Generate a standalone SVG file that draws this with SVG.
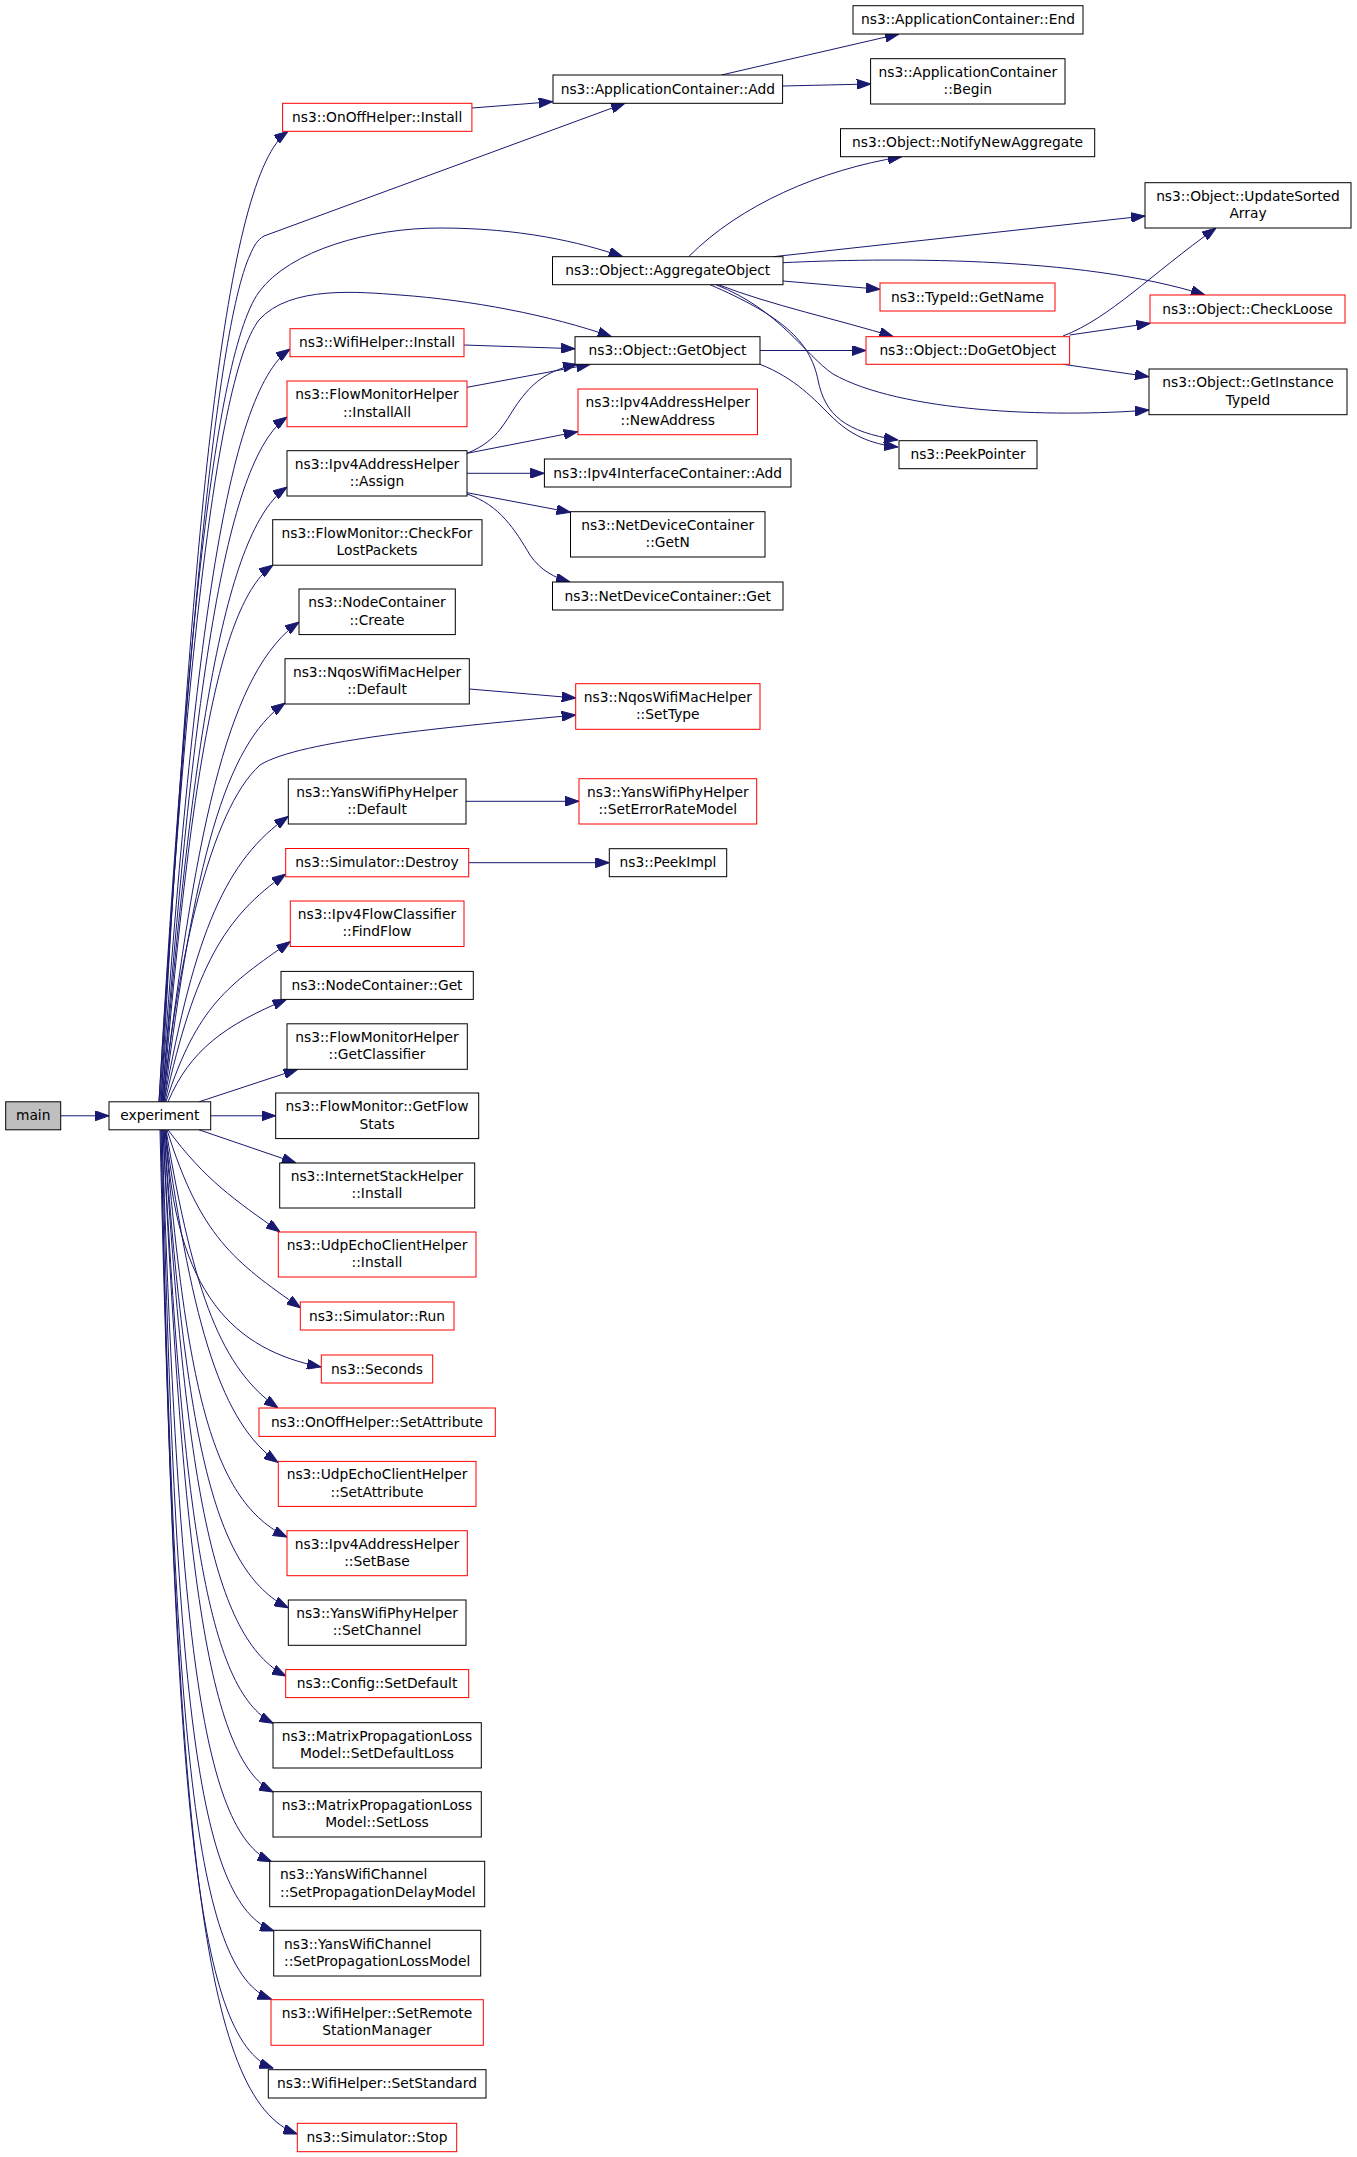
<svg xmlns="http://www.w3.org/2000/svg" width="1357" height="2157" viewBox="0 0 1357 2157">
<style>
.n rect{fill:#fff;stroke:#000;stroke-width:1}
.r rect{stroke:#f00}
.g rect{fill:#bfbfbf}
text{font-family:"DejaVu Sans","Liberation Sans",sans-serif;font-size:13.8px;fill:#000;text-anchor:middle}
.l text{text-anchor:start}
.e path{fill:none;stroke:#191970;stroke-width:1;marker-end:url(#a)}
</style>
<defs>
<marker id="a" markerUnits="userSpaceOnUse" viewBox="0 0 14 10" markerWidth="14" markerHeight="10" refX="14" refY="5" orient="auto"><path d="M0,0L14,5L0,10z" fill="#191970" stroke="#191970" stroke-width="1"/></marker>
</defs>
<rect width="1357" height="2157" fill="#fff"/>
<g id="edges" class="e">
<path d="M60.7,1115.8L109,1115.8"/>
<path d="M161,1101.8C192.8,519.5 224.5,175.8 288,131.3"/>
<path d="M160,1101.8C183,700 215,330 250,255C254,246 257,240 264,236L625,103.3"/>
<path d="M159,1101.8C181,720 210,360 259,292C290,250 370,228 440,228C520,228 580,242 622.7,256.7"/>
<path d="M159,1101.8C181,740 212,380 259,320C290,285 360,292 400,295C470,300 550,315 611.6,336.7"/>
<path d="M161,1101.8C193.3,650.1 225.5,394.2 290,349"/>
<path d="M162,1101.8C193.3,690.9 224.5,460.8 287,417"/>
<path d="M162,1101.8C193.3,732.9 224.5,530.8 287,487"/>
<path d="M163,1101.8C190.5,779.7 218,603.5 273,565"/>
<path d="M163,1101.8C197,813.9 231,669.6 299,622"/>
<path d="M164,1101.8C194.3,862.5 224.5,745.4 285,703"/>
<path d="M163,1101.8C178,960 210,810 260,765C300,740 450,727 575.7,715"/>
<path d="M164,1101.8C195.1,930.6 226.1,859.9 288.3,816.4"/>
<path d="M165,1101.8C195.2,965.1 225.4,916.2 285.7,874"/>
<path d="M166,1101.8C197.1,1005.6 228.2,985 290.3,941.5"/>
<path d="M168,1101.8C190,1050 225,1025 286.7,999.3"/>
<path d="M199,1101.8L297.7,1069.3"/>
<path d="M210.7,1115.8L275.7,1115.8"/>
<path d="M199,1129.8L296,1163"/>
<path d="M168,1129.8C205,1180 235,1200 280,1232"/>
<path d="M167,1129.8C200.4,1236.7 233.9,1261.2 300.7,1308"/>
<path d="M166,1129.8C174,1296 236,1350 321,1367"/>
<path d="M166,1129.8C194,1296.6 222,1368.8 278,1408"/>
<path d="M165,1129.8C193.3,1329.4 221.5,1423 278,1462.5"/>
<path d="M165,1129.8C187,1395.5 213.8,1501.9 287,1537"/>
<path d="M164,1129.8C186.4,1440.5 213.7,1570.5 288.3,1607.8"/>
<path d="M164,1129.8C186,1484.2 212.8,1638.4 286,1676"/>
<path d="M163,1129.8C182.9,1515.6 207.1,1690.2 273.3,1723.3"/>
<path d="M163,1129.8C182.9,1560.2 207.1,1758.9 273.3,1792"/>
<path d="M162,1129.8C178.5,1627.5 200.4,1831 271.7,1861.7"/>
<path d="M162,1129.8C175.4,1690.6 195.6,1903 274,1931"/>
<path d="M161,1129.8C174.3,1738.5 194.2,1971.6 271.7,1999.3"/>
<path d="M161,1129.8C174.5,1786.8 194.7,2040.2 273.3,2068.3"/>
<path d="M160,1129.8C176.5,1832.7 201.2,2099.7 297.3,2134"/>
<path d="M472,108L552.7,101.7"/>
<path d="M721.4,75L899,34"/>
<path d="M782.6,86L870.6,84"/>
<path d="M688.6,256.7C740,205 820,170 901.8,156.7"/>
<path d="M773.3,256.7L1145,216"/>
<path d="M783,262.7C880,258 1080,255 1205,295"/>
<path d="M783,281L880,289.3"/>
<path d="M718.6,284.7C770,305 840,320 893.5,336.7"/>
<path d="M716,284.7C780,310 805,355 833,374C900,412 1050,418 1149,410"/>
<path d="M710,284.7C780,315 810,340 818,380C825,415 845,432 898,440"/>
<path d="M760,364.3C795,378 815,400 830,415C850,435 870,444 898,447"/>
<path d="M760,350.5L866,350.5"/>
<path d="M1063,336C1110,318 1150,275 1216,228"/>
<path d="M1069.6,335L1150.4,323.3"/>
<path d="M1063,364.3L1149,376.7"/>
<path d="M464,345L575,348.7"/>
<path d="M467,387.3L590.4,364.3"/>
<path d="M467,453.3C500,440 505,420 520,400C535,380 550,370 577,364.3"/>
<path d="M467,453.3L577.7,431.7"/>
<path d="M467,473.3L544.4,473.3"/>
<path d="M467,492.7L570.5,512.3"/>
<path d="M467,494C500,505 515,530 530,555C540,570 555,578 570,582"/>
<path d="M469.3,689L575.7,698"/>
<path d="M466,801.3L579,801.3"/>
<path d="M468.7,862.7L609.3,862.7"/>
</g>
<g id="main" class="n g"><rect x="5.7" y="1101.8" width="55" height="28"/><text x="33.2" y="1120.3">main</text></g>
<g id="experiment" class="n"><rect x="109" y="1101.8" width="101.7" height="28"/><text x="159.85" y="1120.3">experiment</text></g>
<g id="onoff_install" class="n r"><rect x="282.6" y="103.3" width="189.3" height="28"/><text x="377.2" y="121.8">ns3::OnOffHelper::Install</text></g>
<g id="wifi_install" class="n r"><rect x="290" y="328.7" width="174" height="28"/><text x="377" y="347.2">ns3::WifiHelper::Install</text></g>
<g id="fm_installall" class="n r"><rect x="287" y="381" width="180" height="45.7"/><text x="377" y="399.25">ns3::FlowMonitorHelper<tspan x="377" y="416.55">::InstallAll</tspan></text></g>
<g id="ipv4_assign" class="n"><rect x="287" y="450.7" width="180" height="45.3"/><text x="377" y="468.75">ns3::Ipv4AddressHelper<tspan x="377" y="486.05">::Assign</tspan></text></g>
<g id="fm_check" class="n"><rect x="272.7" y="519.7" width="209.3" height="45.5"/><text x="377" y="537.85">ns3::FlowMonitor::CheckFor<tspan x="377" y="555.15">LostPackets</tspan></text></g>
<g id="nc_create" class="n"><rect x="299" y="589" width="156.3" height="45.6"/><text x="377" y="607.2">ns3::NodeContainer<tspan x="377" y="624.5">::Create</tspan></text></g>
<g id="nqos_default" class="n"><rect x="285" y="658.7" width="184.3" height="45.3"/><text x="377" y="676.75">ns3::NqosWifiMacHelper<tspan x="377" y="694.05">::Default</tspan></text></g>
<g id="yans_default" class="n"><rect x="288.3" y="779" width="177.7" height="45"/><text x="377" y="796.9">ns3::YansWifiPhyHelper<tspan x="377" y="814.2">::Default</tspan></text></g>
<g id="sim_destroy" class="n r"><rect x="285.7" y="848.5" width="183" height="28.3"/><text x="377" y="867.15">ns3::Simulator::Destroy</text></g>
<g id="findflow" class="n r"><rect x="290.3" y="901" width="173.7" height="45.5"/><text x="377" y="919.15">ns3::Ipv4FlowClassifier<tspan x="377" y="936.45">::FindFlow</tspan></text></g>
<g id="nc_get" class="n"><rect x="281" y="971.4" width="192.3" height="28"/><text x="377" y="989.9">ns3::NodeContainer::Get</text></g>
<g id="fm_getclassifier" class="n"><rect x="287" y="1023.8" width="180.3" height="45.5"/><text x="377" y="1041.95">ns3::FlowMonitorHelper<tspan x="377" y="1059.25">::GetClassifier</tspan></text></g>
<g id="fm_getflowstats" class="n"><rect x="275.7" y="1093" width="203" height="45.6"/><text x="377" y="1111.2">ns3::FlowMonitor::GetFlow<tspan x="377" y="1128.5">Stats</tspan></text></g>
<g id="ish_install" class="n"><rect x="279.7" y="1163" width="195" height="45"/><text x="377" y="1180.9">ns3::InternetStackHelper<tspan x="377" y="1198.2">::Install</tspan></text></g>
<g id="udp_install" class="n r"><rect x="278.3" y="1232" width="197.7" height="45"/><text x="377" y="1249.9">ns3::UdpEchoClientHelper<tspan x="377" y="1267.2">::Install</tspan></text></g>
<g id="sim_run" class="n r"><rect x="300.3" y="1302" width="153.7" height="28"/><text x="377" y="1320.5">ns3::Simulator::Run</text></g>
<g id="seconds" class="n r"><rect x="321.3" y="1355" width="111.4" height="28"/><text x="377" y="1373.5">ns3::Seconds</text></g>
<g id="onoff_setattr" class="n r"><rect x="259" y="1408" width="236.3" height="28.4"/><text x="377" y="1426.7">ns3::OnOffHelper::SetAttribute</text></g>
<g id="udp_setattr" class="n r"><rect x="278.3" y="1461.4" width="197.7" height="45"/><text x="377" y="1479.3">ns3::UdpEchoClientHelper<tspan x="377" y="1496.6">::SetAttribute</tspan></text></g>
<g id="ipv4_setbase" class="n r"><rect x="287" y="1530.7" width="180.3" height="45"/><text x="377" y="1548.6">ns3::Ipv4AddressHelper<tspan x="377" y="1565.9">::SetBase</tspan></text></g>
<g id="yans_setchannel" class="n"><rect x="288.3" y="1600" width="177.7" height="45.3"/><text x="377" y="1618.05">ns3::YansWifiPhyHelper<tspan x="377" y="1635.35">::SetChannel</tspan></text></g>
<g id="config_setdefault" class="n r"><rect x="285.7" y="1669.6" width="183" height="28"/><text x="377" y="1688.1">ns3::Config::SetDefault</text></g>
<g id="mplm_setdefaultloss" class="n"><rect x="273" y="1722.7" width="208.3" height="45.3"/><text x="377" y="1740.75">ns3::MatrixPropagationLoss<tspan x="377" y="1758.05">Model::SetDefaultLoss</tspan></text></g>
<g id="mplm_setloss" class="n"><rect x="273" y="1791.7" width="208.3" height="45.3"/><text x="377" y="1809.75">ns3::MatrixPropagationLoss<tspan x="377" y="1827.05">Model::SetLoss</tspan></text></g>
<g id="ywc_setdelay" class="n l"><rect x="269.7" y="1861.3" width="215" height="45.4"/><text x="280" y="1879.4">ns3::YansWifiChannel<tspan x="280" y="1896.7">::SetPropagationDelayModel</tspan></text></g>
<g id="ywc_setloss" class="n l"><rect x="273.7" y="1930.3" width="207" height="45.7"/><text x="284" y="1948.55">ns3::YansWifiChannel<tspan x="284" y="1965.85">::SetPropagationLossModel</tspan></text></g>
<g id="wifi_setremote" class="n r"><rect x="271" y="1999.7" width="212.3" height="45.6"/><text x="377" y="2017.9">ns3::WifiHelper::SetRemote<tspan x="377" y="2035.2">StationManager</tspan></text></g>
<g id="wifi_setstandard" class="n"><rect x="268.3" y="2069.7" width="217.7" height="28.3"/><text x="377" y="2088.35">ns3::WifiHelper::SetStandard</text></g>
<g id="sim_stop" class="n r"><rect x="297.3" y="2123.3" width="159.4" height="28.4"/><text x="377" y="2142">ns3::Simulator::Stop</text></g>
<g id="appc_add" class="n"><rect x="553" y="75" width="229.6" height="28.3"/><text x="667.8" y="93.65">ns3::ApplicationContainer::Add</text></g>
<g id="obj_aggregate" class="n"><rect x="552.5" y="256.7" width="230.5" height="28"/><text x="667.7" y="275.2">ns3::Object::AggregateObject</text></g>
<g id="obj_getobject" class="n"><rect x="575" y="336.7" width="185" height="27.6"/><text x="667.5" y="355">ns3::Object::GetObject</text></g>
<g id="ipv4_newaddress" class="n r"><rect x="578" y="389" width="179.5" height="45.7"/><text x="667.7" y="407.25">ns3::Ipv4AddressHelper<tspan x="667.7" y="424.55">::NewAddress</tspan></text></g>
<g id="ipv4ic_add" class="n"><rect x="544.4" y="459" width="246.6" height="28"/><text x="667.7" y="477.5">ns3::Ipv4InterfaceContainer::Add</text></g>
<g id="ndc_getn" class="n"><rect x="570.5" y="511.7" width="194.5" height="45.3"/><text x="667.7" y="529.75">ns3::NetDeviceContainer<tspan x="667.7" y="547.05">::GetN</tspan></text></g>
<g id="ndc_get" class="n"><rect x="552.5" y="582" width="230.5" height="28"/><text x="667.7" y="600.5">ns3::NetDeviceContainer::Get</text></g>
<g id="nqos_settype" class="n r"><rect x="575.7" y="683.7" width="184.3" height="45.6"/><text x="667.8" y="701.9">ns3::NqosWifiMacHelper<tspan x="667.8" y="719.2">::SetType</tspan></text></g>
<g id="yans_seterror" class="n r"><rect x="579" y="778.7" width="177.7" height="45.3"/><text x="667.8" y="796.75">ns3::YansWifiPhyHelper<tspan x="667.8" y="814.05">::SetErrorRateModel</tspan></text></g>
<g id="peekimpl" class="n"><rect x="609.3" y="848.7" width="117.4" height="28"/><text x="668" y="867.2">ns3::PeekImpl</text></g>
<g id="appc_end" class="n"><rect x="853" y="5.7" width="230" height="28.3"/><text x="968" y="24.35">ns3::ApplicationContainer::End</text></g>
<g id="appc_begin" class="n"><rect x="870.6" y="58.7" width="194.4" height="45.3"/><text x="967.8" y="76.75">ns3::ApplicationContainer<tspan x="967.8" y="94.05">::Begin</tspan></text></g>
<g id="obj_notify" class="n"><rect x="840.5" y="128.7" width="254.2" height="28"/><text x="967.6" y="147.2">ns3::Object::NotifyNewAggregate</text></g>
<g id="typeid_getname" class="n r"><rect x="880" y="283" width="175" height="28"/><text x="967.5" y="301.5">ns3::TypeId::GetName</text></g>
<g id="obj_dogetobject" class="n r"><rect x="866" y="336.7" width="203.6" height="27.6"/><text x="967.8" y="355">ns3::Object::DoGetObject</text></g>
<g id="peekpointer" class="n"><rect x="899" y="440.7" width="138" height="28"/><text x="968" y="459.2">ns3::PeekPointer</text></g>
<g id="obj_updatesorted" class="n"><rect x="1145" y="182.7" width="206" height="45.3"/><text x="1248" y="200.75">ns3::Object::UpdateSorted<tspan x="1248" y="218.05">Array</tspan></text></g>
<g id="obj_checkloose" class="n r"><rect x="1150" y="295" width="195" height="28"/><text x="1247.5" y="313.5">ns3::Object::CheckLoose</text></g>
<g id="obj_getinstancetypeid" class="n"><rect x="1149" y="369" width="198" height="45.7"/><text x="1248" y="387.25">ns3::Object::GetInstance<tspan x="1248" y="404.55">TypeId</tspan></text></g>
</svg>
